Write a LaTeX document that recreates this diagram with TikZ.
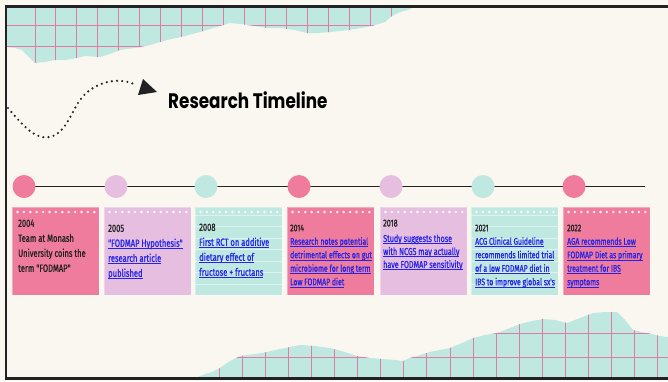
\documentclass[tikz,border=0pt]{standalone}
\usepackage{fontspec}
\setmainfont{Fira Sans}
\newfontfamily\cardfont[FakeStretch=0.72, FakeBold=0.9]{Fira Sans}
\newfontfamily\titlefont[FakeStretch=0.8]{Poppins}
\usetikzlibrary{calc}

\definecolor{paper}{HTML}{FAF7F1}
\definecolor{tealc}{HTML}{BFE8E1}
\definecolor{pinkc}{HTML}{EF7C9C}
\definecolor{lavc}{HTML}{E6BEDF}
\definecolor{gridc}{HTML}{DE7CA3}
\definecolor{linkc}{HTML}{2424E8}
\definecolor{ink}{HTML}{222222}

% underline at a fixed depth below the baseline
\newcommand\ul[1]{\setbox0\hbox{#1}\rlap{\rule[-2.3pt]{\wd0}{0.9pt}}\box0}

% torn paper outlines
\newcommand\toptorn{(6,7) -- (414,7) -- (408,10) -- (400,12) -- (392,16)
    -- (385,22) -- (375,25) -- (367,27) -- (355,29) -- (340,31) -- (330,32)
    -- (318,33) -- (307,33) -- (295,30) -- (280,28) -- (267,28) -- (255,26)
    -- (240,24) -- (230,23) -- (220,26) -- (210,29) -- (200,32) -- (185,36)
    -- (167,40) -- (150,45) -- (135,48) -- (120,50) -- (110,54) -- (100,57)
    -- (85,56) -- (77,58) -- (65,60) -- (55,60) -- (45,62) -- (35,63)
    -- (30,58) -- (22,50) -- (15,48) -- (6,47) -- cycle}
\newcommand\bottorn{(195,378) -- (205,374) -- (212,372) -- (220,368)
    -- (230,361) -- (240,356) -- (255,354) -- (267,352) -- (280,349) -- (290,347)
    -- (300,345) -- (315,346) -- (330,348) -- (345,352) -- (357,356) -- (370,358)
    -- (383,359) -- (395,360) -- (403,361) -- (410,358) -- (417,356) -- (430,352)
    -- (450,348) -- (462,343) -- (473,338) -- (485,335) -- (497,333) -- (510,328)
    -- (520,324) -- (532,321) -- (543,319) -- (555,320) -- (567,323) -- (580,318)
    -- (593,313) -- (605,312) -- (617,312) -- (625,320) -- (633,330) -- (647,333)
    -- (660,336) -- (668,337) -- (668,378) -- cycle}

\tikzset{
  card/.style={anchor=north west, minimum width=87pt, minimum height=88pt,
               inner sep=0pt, draw=white, draw opacity=0.35, line width=0.6pt},
  marker/.style={circle, minimum size=23pt, inner sep=0pt},
  cardtxt/.style={anchor=north west, inner sep=0pt, align=left, text=linkc,
                  font=\cardfont\fontsize{10.5}{15}\selectfont},
  smalltxt/.style={cardtxt, font=\cardfont\fontsize{9.6}{13.5}\selectfont},
  gridline/.style={gridc, line width=0.9pt},
  dotline/.style={ink, line width=2.4pt, dash pattern=on 0pt off 5.2pt, line cap=round},
}

\newcommand\dotrow[1]{%
  \foreach \i in {0,...,12}
    \fill[white] ($(#1.north west)+(5.5+6.4*\i,5)$) circle (1.3pt);}
\newcommand\ruled[1]{%
  \foreach \j in {0,...,6}
    \draw[white, opacity=0.45, line width=0.6pt]
      ($(#1.north west)+(0,8+11.5*\j)$) -- ++(87,0);}

\begin{document}
\begin{tikzpicture}[x=1pt,y=-1pt]
\useasboundingbox (0,0) rectangle (668,381);
\fill[paper] (0,0) rectangle (668,381);

% torn grid paper, top left
\fill[tealc] \toptorn;
\begin{scope}
  \clip \toptorn;
  \foreach \k in {0,...,17}
    \draw[gridline] (35+20.94*\k,0) -- (35+20.94*\k,70);
  \foreach \r in {25,46}
    \draw[gridline] (0,\r) -- (420,\r);
\end{scope}

% torn grid paper, bottom right
\fill[tealc] \bottorn;
\begin{scope}
  \clip \bottorn;
  \foreach \k in {0,...,19}
    \draw[gridline] (219+23.1*\k,300) -- (219+23.1*\k,381);
  \foreach \r in {333,357}
    \draw[gridline] (190,\r) -- (668,\r);
\end{scope}

% frame
\draw[ink, line width=2.6pt] (668,6.5) -- (6,6.5) -- (6,378.5) -- (668,378.5);

% dotted swoosh and title
\coordinate (swA) at (8,108);
\coordinate (swB) at (136,85);
\draw[dotline] (swA) .. controls (25,128) and (36,140) .. (50,137)
  .. controls (64,134) and (70,116) .. (78,103)
  .. controls (88,86) and (114,74) .. (swB);
\fill[ink] (143,79) -- (157,92) -- (138,95) -- cycle;
\node[anchor=base west, inner sep=0pt, text=black,
      font=\titlefont\bfseries\fontsize{21}{21}\selectfont]
  (title) at (168,108) {Research Timeline};

% timeline
\coordinate (tlstart) at (24,186.5);
\coordinate (tlend) at (645,186.5);
\draw[ink, line width=1.4pt] (tlstart) -- (tlend);
\node[marker, fill=pinkc] (m1) at (24,186.5) {};
\node[marker, fill=lavc]  (m2) at (116,186.5) {};
\node[marker, fill=tealc] (m3) at (206,186.5) {};
\node[marker, fill=pinkc] (m4) at (299,186.5) {};
\node[marker, fill=lavc]  (m5) at (391,186.5) {};
\node[marker, fill=tealc] (m6) at (483,186.5) {};
\node[marker, fill=pinkc] (m7) at (574,186.5) {};

% cards
\node[card, fill=pinkc] (c1) at (12,207) {};
\node[card, fill=lavc]  (c2) at (104,207) {};
\node[card, fill=tealc] (c3) at (195,207) {};
\node[card, fill=pinkc] (c4) at (287,207) {};
\node[card, fill=lavc]  (c5) at (380,207) {};
\node[card, fill=tealc] (c6) at (471,207) {};
\node[card, fill=pinkc] (c7) at (563,207) {};
\ruled{c3}
\ruled{c6}
\dotrow{c1}\dotrow{c2}\dotrow{c3}\dotrow{c4}\dotrow{c5}\dotrow{c6}\dotrow{c7}

% card texts
\node[cardtxt, text=ink] (t1) at (18,219.5)
  {2004\\Team at Monash\\University coins the\\term "FODMAP"};
\node[cardtxt] (t2) at (108,224.5)
  {\textcolor{ink}{2005}\\\ul{"FODMAP Hypothesis"}\\\ul{research article}\\\ul{published}};
\node[cardtxt] (t3) at (199,223.5)
  {\textcolor{ink}{2008}\\\ul{First RCT on additive}\\\ul{dietary effect of}\\\ul{fructose + fructans}};
\node[smalltxt] (t4) at (290,224.5)
  {\textcolor{ink}{2014}\\\ul{Research notes potential}\\\ul{detrimental effects on gut}\\\ul{microbiome for long term}\\\ul{Low FODMAP diet}};
\node[cardtxt, font=\cardfont\fontsize{10}{13}\selectfont] (t5) at (383,219.5)
  {\textcolor{ink}{2018}\\[2.5pt]\ul{Study suggests those}\\\ul{with NCGS may actually}\\\ul{have FODMAP sensitivity}};
\node[smalltxt] (t6) at (475,224.5)
  {\textcolor{ink}{2021}\\\ul{ACG Clinical Guideline}\\\ul{recommends limited trial}\\\ul{of a low FODMAP diet in}\\\ul{IBS to improve global sx's}};
\node[smalltxt] (t7) at (567,224.5)
  {\textcolor{ink}{2022}\\\ul{AGA recommends Low}\\\ul{FODMAP Diet as primary}\\\ul{treatment for IBS}\\\ul{symptoms}};
\end{tikzpicture}
\end{document}
